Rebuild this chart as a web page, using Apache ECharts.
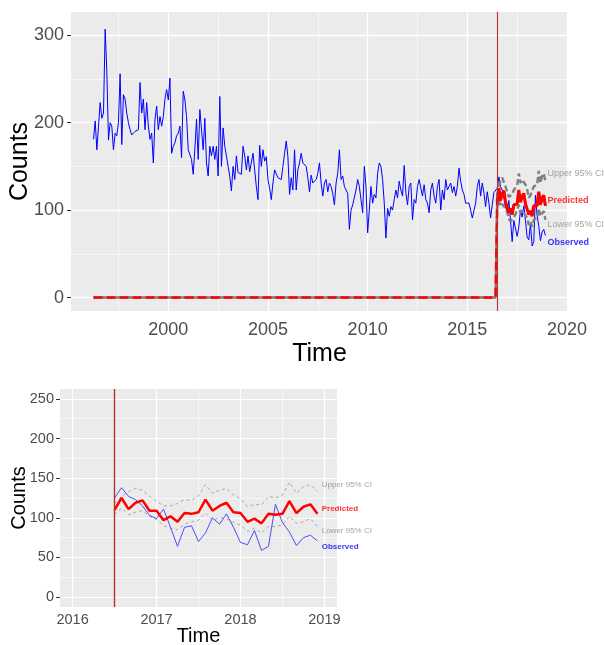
<!DOCTYPE html>
<html>
<head>
<meta charset="utf-8">
<script src="https://cdn.jsdelivr.net/npm/echarts@6/dist/echarts.min.js"></script>
<style>
html,body{margin:0;padding:0;background:#ffffff;}
#chart{width:604px;height:645px;}
</style>
</head>
<body>
<div id="chart"></div>
<script>
// ---------------- data ----------------
const startYear = 1996;
const startMonth = 4;            // first observation: April 1996 (monthly series)
const interventionTime = 2016.5; // vertical line
const preBaseline = 0;           // predicted / CI value before the intervention

// observed counts, Apr 1996 .. Jun 2016
const observedPre = [
  181,202,169,196,223,205,211,307,259,180,200,196,
  169,188,185,200,256,175,232,227,211,200,192,186,
  184,190,188,192,246,211,227,192,223,196,181,188,
  154,204,219,192,207,196,207,227,238,226,251,165,
  173,177,185,188,196,160,236,226,207,169,167,158,
  141,170,204,158,215,192,169,205,154,139,173,162,
  173,158,173,139,230,150,194,173,162,150,139,122,
  150,135,162,143,143,141,173,162,146,162,144,142,
  165,146,127,112,174,150,169,156,161,135,125,112,
  131,146,148,137,135,135,150,165,179,161,118,137,
  123,169,123,146,154,165,154,154,150,137,121,140,
  131,133,135,142,154,131,116,131,135,121,131,127,
  119,106,131,142,169,135,139,127,123,119,78,100,
  106,108,123,135,127,112,97,150,127,74,100,127,
  108,118,114,142,154,150,135,108,68,102,93,104,
  100,112,123,114,133,123,116,151,120,106,127,131,
  89,112,108,127,135,136,116,129,112,108,97,123,
  131,116,108,127,135,100,123,112,135,123,127,131,
  120,127,116,127,148,133,123,118,108,106,108,100,
  91,93,108,127,135,116,131,120,104,121,108,91,
  106,120,121
];
// observed counts, Jul 2016 .. Dec 2018
const observedPost = [
  125,138,127,123,115,103,99,111,88,64,
  88,90,70,81,100,92,105,88,69,66,
  84,59,64,117,94,82,65,75,78,71
];
const predicted = [
  110,125,111,119,122,109,109,97,102,95,
  106,105,107,123,109,115,119,107,106,95,
  99,93,105,104,105,121,106,114,117,105
];
const upper95 = [
  118,127,133,137,135,127,121,115,115,118,
  123,122,128,142,131,135,137,129,124,114,
  117,116,127,125,129,145,131,139,142,133
];
const lower95 = [
  104,112,104,107,109,102,98,90,87,85,
  92,95,97,106,97,100,99,94,91,83,
  87,81,89,89,91,102,93,95,99,89
];

// axis ticks
const topXTicks = [2000, 2005, 2010, 2015, 2020];
const topXMinor = [1997.5, 2002.5, 2007.5, 2012.5, 2017.5];
const topYTicks = [0, 100, 200, 300];
const topYMinor = [50, 150, 250];
const botXTicks = [2016, 2017, 2018, 2019];
const botXMinor = [2016.5, 2017.5, 2018.5];
const botYTicks = [0, 50, 100, 150, 200, 250];
const botYMinor = [25, 75, 125, 175, 225];

// text annotations
const annotX = 2018.95;
const annotTexts = ['Upper 95% CI', 'Predicted', 'Lower 95% CI', 'Observed'];
const annotY = [142, 111, 84, 63];
const annotColors = ['#8c8c8c', '#ff0000', '#8c8c8c', '#0000ff'];
const annotBold = [false, true, false, true];

// ---------------- helpers ----------------
const t0 = startYear + (startMonth - 1) / 12;
const timeOf = i => t0 + i / 12;
const nPre = observedPre.length;

const observedAll = observedPre.concat(observedPost).map((v, i) => [timeOf(i), v]);
const observedPostPts = observedPost.map((v, k) => [timeOf(nPre + k), v]);
const postPts = arr => arr.map((v, k) => [timeOf(nPre + k), v]);
const withPre = arr => [[timeOf(0), preBaseline], [timeOf(nPre - 1), preBaseline]].concat(postPts(arr));

const FONT = "'Liberation Sans', Arial, sans-serif";

function gridLines(xMaj, xMin, yMaj, yMin, wMaj, wMin) {
  const d = [];
  xMin.forEach(v => d.push({xAxis: v, lineStyle: {width: wMin}}));
  yMin.forEach(v => d.push({yAxis: v, lineStyle: {width: wMin}}));
  xMaj.forEach(v => d.push({xAxis: v, lineStyle: {width: wMaj}}));
  yMaj.forEach(v => d.push({yAxis: v, lineStyle: {width: wMaj}}));
  return d;
}

function xAxisCfg(idx, min, max, ticks, fs, margin, nameGap, nameFs) {
  return {
    type: 'value', gridIndex: idx, min: min, max: max,
    name: 'Time', nameLocation: 'middle', nameGap: nameGap, nameMoveOverlap: false,
    nameTextStyle: {fontSize: nameFs, color: '#000', fontFamily: FONT},
    axisLine: {show: false},
    axisTick: {show: true, customValues: ticks, length: 4, lineStyle: {color: '#333333', width: 1}},
    axisLabel: {customValues: ticks, fontSize: fs, color: '#4d4d4d', margin: margin, fontFamily: FONT,
                formatter: v => String(v)},
    splitLine: {show: false}
  };
}
function yAxisCfg(idx, min, max, ticks, fs, margin, nameGap, nameFs) {
  return {
    type: 'value', gridIndex: idx, min: min, max: max,
    name: 'Counts', nameLocation: 'middle', nameGap: nameGap, nameMoveOverlap: false,
    nameTextStyle: {fontSize: nameFs, color: '#000', fontFamily: FONT},
    axisLine: {show: false},
    axisTick: {show: true, customValues: ticks, length: 4, lineStyle: {color: '#333333', width: 1}},
    axisLabel: {customValues: ticks, fontSize: fs, color: '#4d4d4d', margin: margin, fontFamily: FONT,
                formatter: v => String(v)},
    splitLine: {show: false}
  };
}

function annotSeries(idx, fs) {
  return {
    type: 'scatter', xAxisIndex: idx, yAxisIndex: idx, z: 10, clip: false,
    symbol: 'circle', symbolSize: 1, itemStyle: {color: 'rgba(0,0,0,0)'}, silent: true,
    data: annotTexts.map((t, i) => ({
      name: t, value: [annotX, annotY[i]],
      label: {color: annotColors[i], fontWeight: annotBold[i] ? 'bold' : 'normal'}
    })),
    label: {show: true, position: 'right', distance: 1, fontSize: fs, fontFamily: FONT,
            formatter: p => p.name}
  };
}

function vline(color, width) {
  return {
    silent: true, symbol: ['none', 'none'], z: 8, animation: false,
    label: {show: false},
    lineStyle: {color: color, width: width, type: 'solid'},
    data: [{xAxis: interventionTime}]
  };
}

const option = {
  animation: false,
  backgroundColor: '#ffffff',
  textStyle: {fontFamily: FONT},
  grid: [
    {left: 71, top: 12, width: 497, height: 299, show: true, backgroundColor: '#ebebeb', borderWidth: 0,
     containLabel: false, outerBoundsMode: 'none'},
    {left: 60, top: 389, width: 277, height: 218, show: true, backgroundColor: '#ebebeb', borderWidth: 0,
     containLabel: false, outerBoundsMode: 'none'}
  ],
  xAxis: [
    xAxisCfg(0, 1995.12, 2020.05, topXTicks, 18, 10, 31, 25),
    xAxisCfg(1, 2015.85, 2019.15, botXTicks, 14.5, 5, 19, 20)
  ],
  yAxis: [
    yAxisCfg(0, -15.4, 326.6, topYTicks, 18, 7, 38, 25),
    yAxisCfg(1, -12.5, 262.5, botYTicks, 14.5, 6, 31, 20)
  ],
  series: [
    // ---------- top panel ----------
    {
      type: 'line', xAxisIndex: 0, yAxisIndex: 0, z: 1, silent: true,
      data: [[timeOf(0), preBaseline]], symbol: 'none', lineStyle: {opacity: 0},
      markLine: {silent: true, symbol: ['none', 'none'], z: 1, animation: false, label: {show: false},
                 lineStyle: {color: '#ffffff', type: 'solid'},
                 data: gridLines(topXTicks, topXMinor, topYTicks, topYMinor, 1.3, 0.6)}
    },
    {
      name: 'Observed', type: 'line', xAxisIndex: 0, yAxisIndex: 0, z: 3,
      data: observedAll, symbol: 'none', lineStyle: {color: '#0000ff', width: 1}
    },
    {
      name: 'Upper', type: 'line', xAxisIndex: 0, yAxisIndex: 0, z: 4,
      data: withPre(upper95), symbol: 'none',
      lineStyle: {color: '#808080', width: 2.4, type: [6, 3]}
    },
    {
      name: 'Lower', type: 'line', xAxisIndex: 0, yAxisIndex: 0, z: 4,
      data: withPre(lower95), symbol: 'none',
      lineStyle: {color: '#808080', width: 2.4, type: [6, 3], dashOffset: 4}
    },
    {
      name: 'PredictedPre', type: 'line', xAxisIndex: 0, yAxisIndex: 0, z: 5,
      data: withPre(predicted), symbol: 'none',
      lineStyle: {color: '#ff0000', width: 2.4, type: [9, 4]}
    },
    {
      name: 'Predicted', type: 'line', xAxisIndex: 0, yAxisIndex: 0, z: 6,
      data: postPts(predicted), symbol: 'none',
      lineStyle: {color: '#ff0000', width: 3}
    },
    {
      type: 'line', xAxisIndex: 0, yAxisIndex: 0, z: 7, silent: true,
      data: [[timeOf(0), preBaseline]], symbol: 'none', lineStyle: {opacity: 0},
      markLine: vline('#b8302a', 1.1)
    },
    annotSeries(0, 9),
    // ---------- bottom panel ----------
    {
      type: 'line', xAxisIndex: 1, yAxisIndex: 1, z: 1, silent: true,
      data: [[interventionTime, preBaseline]], symbol: 'none', lineStyle: {opacity: 0},
      markLine: {silent: true, symbol: ['none', 'none'], z: 1, animation: false, label: {show: false},
                 lineStyle: {color: '#ffffff', type: 'solid'},
                 data: gridLines(botXTicks, botXMinor, botYTicks, botYMinor, 1.2, 0.6)}
    },
    {
      type: 'line', xAxisIndex: 1, yAxisIndex: 1, z: 3,
      data: postPts(upper95), symbol: 'none',
      lineStyle: {color: '#a6a6a6', width: 1, type: [3, 3]}
    },
    {
      type: 'line', xAxisIndex: 1, yAxisIndex: 1, z: 3,
      data: postPts(lower95), symbol: 'none',
      lineStyle: {color: '#a6a6a6', width: 1, type: [3, 3]}
    },
    {
      type: 'line', xAxisIndex: 1, yAxisIndex: 1, z: 4,
      data: observedPostPts, symbol: 'none',
      lineStyle: {color: '#4d4dff', width: 1}
    },
    {
      type: 'line', xAxisIndex: 1, yAxisIndex: 1, z: 5,
      data: postPts(predicted), symbol: 'none',
      lineStyle: {color: '#ff0000', width: 2.5}
    },
    {
      type: 'line', xAxisIndex: 1, yAxisIndex: 1, z: 7, silent: true,
      data: [[interventionTime, preBaseline]], symbol: 'none', lineStyle: {opacity: 0},
      markLine: vline('#b8302a', 1.4)
    },
    annotSeries(1, 8)
  ]
};

const chart = echarts.init(document.getElementById('chart'), null, {renderer: 'canvas'});
chart.setOption(option);
</script>
</body>
</html>
